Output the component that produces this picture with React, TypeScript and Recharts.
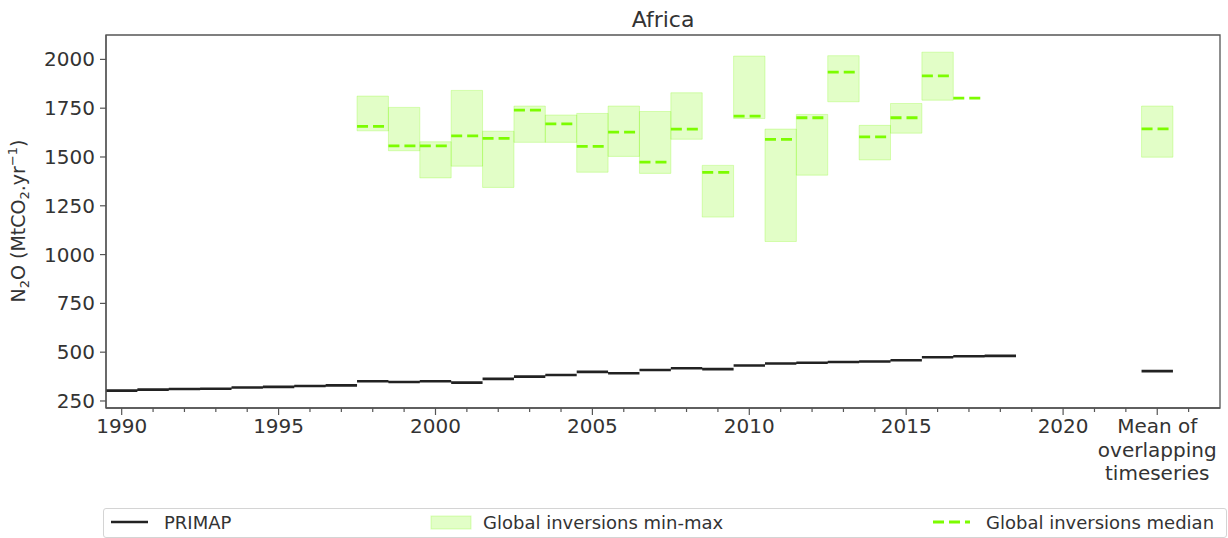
import React from "react";
import { ComposedChart, Line, XAxis, YAxis, ReferenceArea } from "recharts";

// PRIMAP national inventory, one value per year
const primapYears = [
  1990, 1991, 1992, 1993, 1994, 1995, 1996, 1997, 1998, 1999, 2000, 2001, 2002, 2003, 2004,
  2005, 2006, 2007, 2008, 2009, 2010, 2011, 2012, 2013, 2014, 2015, 2016, 2017, 2018,
];
const primapValues = [
  303, 308, 311, 313, 319, 322, 327, 330, 351, 347, 351, 344, 363, 375, 383,
  399, 392, 409, 418, 413, 432, 442, 446, 450, 452, 459, 474, 479, 481,
];
const primapMean = 403;

// global inversions ensemble
const inversionYears = [
  1998, 1999, 2000, 2001, 2002, 2003, 2004, 2005, 2006, 2007,
  2008, 2009, 2010, 2011, 2012, 2013, 2014, 2015, 2016, 2017,
];
const inversionMin = [
  1634, 1532, 1393, 1453, 1344, 1575, 1575, 1422, 1503, 1416,
  1591, 1192, 1697, 1067, 1407, 1783, 1485, 1622, 1791, 1802,
];
const inversionMax = [
  1812, 1754, 1578, 1841, 1632, 1761, 1715, 1723, 1761, 1733,
  1829, 1457, 2017, 1643, 1718, 2019, 1662, 1774, 2037, 1802,
];
const inversionMedian = [
  1657, 1557, 1557, 1608, 1595, 1740, 1670, 1554, 1627, 1474,
  1643, 1421, 1709, 1590, 1701, 1935, 1603, 1701, 1916, 1802,
];
const inversionMeanMin = 1499;
const inversionMeanMax = 1761;
const inversionMeanMedian = 1644;

// the "mean" column sits to the right of the years
const MEAN_POS = 2023;
const meanLabel = ["Mean of", "overlapping", "timeseries"];
const labelledYears = [1990, 1995, 2000, 2005, 2010, 2015, 2020];
const xTicks = [
  1990, 1991, 1992, 1993, 1994, 1995, 1996, 1997, 1998, 1999, 2000, 2001,
  2002, 2003, 2004, 2005, 2006, 2007, 2008, 2009, 2010, 2011, 2012, 2013,
  2014, 2015, 2016, 2017, 2018, 2019, 2020, 2021, 2022, 2023, 2024,
];
const yTicks = [250, 500, 750, 1000, 1250, 1500, 1750, 2000];

const X_DOMAIN: [number, number] = [1989.5, 2025];
const Y_DOMAIN: [number, number] = [214, 2125];

const FONT = "'DejaVu Sans', sans-serif";
const TEXT = "#333";
const AXIS = "#555";
const GREEN = "#7cfc00";

// one horizontal segment per year, broken by a null so they don't join
function stepRows(xs: number[], vs: number[]) {
  const rows: { x: number; v: number | null }[] = [];
  xs.forEach((x, i) => {
    rows.push({ x: x - 0.5, v: vs[i] });
    rows.push({ x: x + 0.5, v: vs[i] });
    rows.push({ x: x + 0.5, v: null });
  });
  return rows;
}

const primapRows = stepRows([...primapYears, MEAN_POS], [...primapValues, primapMean]);
const medianRows = stepRows([...inversionYears, MEAN_POS], [...inversionMedian, inversionMeanMedian]);

const boxes = [
  ...inversionYears.map((y, i) => ({ x: y, lo: inversionMin[i], hi: inversionMax[i] })),
  { x: MEAN_POS, lo: inversionMeanMin, hi: inversionMeanMax },
].filter((b) => b.hi > b.lo);

const XTick = (props: any) => {
  const { x, y, payload } = props;
  const v = payload.value as number;
  const isMean = v === MEAN_POS;
  const major = isMean || labelledYears.includes(v);
  return (
    <g>
      <line x1={x} x2={x} y1={y} y2={y + (major ? 7 : 4)} stroke={AXIS} strokeWidth={1.2} />
      {major && !isMean && (
        <text x={x} y={y + 25} textAnchor="middle" fontSize={20} fill={TEXT} fontFamily={FONT}>
          {v}
        </text>
      )}
      {isMean &&
        meanLabel.map((t, i) => (
          <text key={t} x={x} y={y + 25 + i * 23.5} textAnchor="middle" fontSize={20} fill={TEXT} fontFamily={FONT}>
            {t}
          </text>
        ))}
    </g>
  );
};

const Legend = () => (
  <div
    style={{
      position: "absolute",
      left: 103,
      top: 508,
      width: 1122,
      height: 28,
      border: "1px solid #d4d4d4",
      borderRadius: 3,
      fontFamily: FONT,
      fontSize: 18,
      color: TEXT,
      background: "#fff",
    }}
  >
    <svg width={1122} height={28} style={{ position: "absolute", left: 0, top: 0 }}>
      <line x1={7} x2={44} y1={13} y2={13} stroke="#222" strokeWidth={2.6} />
      <rect x={327} y={7} width={40} height={13} fill={GREEN} fillOpacity={0.22} stroke={GREEN} strokeOpacity={0.25} />
      <line x1={829} x2={866} y1={13} y2={13} stroke={GREEN} strokeWidth={2.8} strokeDasharray="11 5" />
      <text x={60} y={19.5} fontSize={18} fill={TEXT} fontFamily={FONT}>PRIMAP</text>
      <text x={379} y={19.5} fontSize={18} fill={TEXT} fontFamily={FONT}>Global inversions min-max</text>
      <text x={882} y={19.5} fontSize={18} fill={TEXT} fontFamily={FONT}>Global inversions median</text>
    </svg>
  </div>
);

export default function App() {
  return (
    <div style={{ position: "absolute", left: 0, top: 0, width: 1228, height: 538, background: "#fff" }}>
      <ComposedChart width={1228} height={538} margin={{ top: 35, right: 8, bottom: 0, left: 0 }}>
        <XAxis
          dataKey="x"
          type="number"
          domain={X_DOMAIN}
          allowDataOverflow
          ticks={xTicks}
          interval={0}
          tickSize={0}
          tickMargin={0}
          tickLine={false}
          tick={<XTick />}
          height={130}
          axisLine={{ stroke: AXIS, strokeWidth: 1.3 }}
        />
        <YAxis
          type="number"
          domain={Y_DOMAIN}
          allowDataOverflow
          ticks={yTicks}
          interval={0}
          width={106}
          tickSize={6}
          tickMargin={5}
          tickLine={{ stroke: AXIS, strokeWidth: 1.2 }}
          axisLine={{ stroke: AXIS, strokeWidth: 1.3 }}
          tick={{ fontSize: 20, fill: TEXT, fontFamily: FONT }}
        />
        {boxes.map((b) => (
          <ReferenceArea
            key={`box-${b.x}`}
            x1={b.x - 0.5}
            x2={b.x + 0.5}
            y1={b.lo}
            y2={b.hi}
            fill={GREEN}
            fillOpacity={0.22}
            stroke={GREEN}
            strokeOpacity={0.25}
            ifOverflow="visible"
          />
        ))}
        <Line
          data={primapRows}
          dataKey="v"
          stroke="#222"
          strokeWidth={2.6}
          dot={false}
          activeDot={false}
          connectNulls={false}
          isAnimationActive={false}
        />
        <Line
          data={medianRows}
          dataKey="v"
          stroke={GREEN}
          strokeWidth={2.8}
          strokeDasharray="11 5"
          dot={false}
          activeDot={false}
          connectNulls={false}
          isAnimationActive={false}
        />
        {/* plot frame */}
        <ReferenceArea
          x1={X_DOMAIN[0]}
          x2={X_DOMAIN[1]}
          y1={Y_DOMAIN[0]}
          y2={Y_DOMAIN[1]}
          fill="none"
          stroke={AXIS}
          strokeWidth={1.3}
          ifOverflow="visible"
        />
      </ComposedChart>
      <svg width={1228} height={538} style={{ position: "absolute", left: 0, top: 0, pointerEvents: "none" }}>
        <text x={663} y={27} textAnchor="middle" fontSize={22} fill={TEXT} fontFamily={FONT}>
          Africa
        </text>
        <text
          x={0}
          y={0}
          transform="translate(25 221) rotate(-90)"
          textAnchor="middle"
          fontSize={19}
          fill={TEXT}
          fontFamily={FONT}
        >
          N<tspan fontSize={13} dy={4}>2</tspan>
          <tspan dy={-4}>O (MtCO</tspan>
          <tspan fontSize={13} dy={4}>2</tspan>
          <tspan dy={-4}>.yr</tspan>
          <tspan fontSize={13} dy={-8}>−1</tspan>
          <tspan dy={8}>)</tspan>
        </text>
      </svg>
      <Legend />
    </div>
  );
}
